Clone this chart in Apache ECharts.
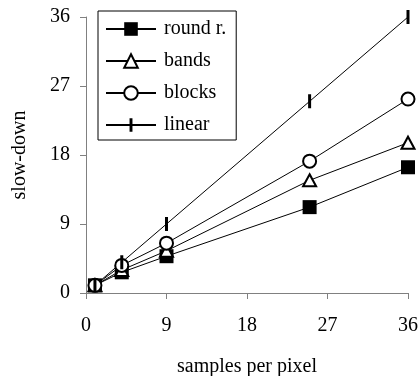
<!DOCTYPE html>
<html>
<head>
<meta charset="utf-8">
<script src="https://cdn.jsdelivr.net/npm/echarts@6/dist/echarts.min.js"></script>
<style>html,body{margin:0;padding:0;background:#fff;}#c{width:420px;height:376px;}</style>
</head>
<body>
<div id="c"></div>
<script>
var samples = [1, 4, 9, 25, 36];
var roundR = [1, 2.7, 4.8, 11.2, 16.4];
var bands = [1, 3.0, 5.5, 14.7, 19.6];
var blocks = [1, 3.6, 6.5, 17.2, 25.3];
var linear = [1, 4, 9, 25, 36];
var seriesNames = ['round r.', 'bands', 'blocks', 'linear'];
var xTicks = [0, 9, 18, 27, 36];
var yTicks = [0, 9, 18, 27, 36];

function pairs(ys) { return samples.map(function (x, i) { return [x, ys[i]]; }); }

var font = '"Liberation Serif", "Times New Roman", serif';
var axisColor = '#808080';
var fs = 20;
// vertical bar inside a square box (corner specks keep the box square)
var barSymbol = 'path://M5.5,0 L8.5,0 L8.5,14 L5.5,14 Z M0,0 L0.01,0 L0.01,0.01 Z M14,14 L13.99,14 L13.99,13.99 Z';

var chart = echarts.init(document.getElementById('c'), null, { renderer: 'canvas' });
var common = {
  type: 'line',
  lineStyle: { color: '#000', width: 1 },
  showAllSymbol: true,
  animation: false,
  z: 3
};
chart.setOption({
  animation: false,
  backgroundColor: '#fff',
  grid: { left: 86, right: 12, top: 17, bottom: 83, containLabel: false, outerBoundsMode: 'none' },
  legend: {
    orient: 'vertical',
    left: 98, top: 11,
    padding: [8, 10, 5, 7],
    itemWidth: 50, itemHeight: 17, itemGap: 12,
    borderColor: '#000', borderWidth: 1,
    backgroundColor: '#fff',
    textStyle: { fontFamily: font, fontSize: fs, color: '#000', lineHeight: 20, padding: [0, 0, 0, 3] },
    data: seriesNames
  },
  xAxis: {
    type: 'value', min: 0, max: 36, interval: 9,
    name: 'samples per pixel', nameLocation: 'middle', nameGap: 64,
    nameTextStyle: { fontFamily: font, fontSize: fs, color: '#000' },
    axisLine: { show: true, lineStyle: { color: axisColor, width: 1 } },
    axisTick: { show: true, length: 6, lineStyle: { color: axisColor } },
    axisLabel: { fontFamily: font, fontSize: fs, color: '#000', margin: 23,
      formatter: function (v) { return xTicks.indexOf(v) >= 0 ? String(v) : ''; } },
    splitLine: { show: false }
  },
  yAxis: {
    type: 'value', min: 0, max: 36, interval: 9,
    name: 'slow-down', nameLocation: 'middle', nameGap: 56,
    nameTextStyle: { fontFamily: font, fontSize: fs, color: '#000' },
    axisLine: { show: true, lineStyle: { color: axisColor, width: 1 } },
    axisTick: { show: true, length: 6, lineStyle: { color: axisColor } },
    axisLabel: { fontFamily: font, fontSize: fs, color: '#000', margin: 16,
      formatter: function (v) { return yTicks.indexOf(v) >= 0 ? String(v) : ''; } },
    splitLine: { show: false }
  },
  series: [
    Object.assign({}, common, { name: seriesNames[0], data: pairs(roundR), symbol: 'rect', symbolSize: 14,
      itemStyle: { color: '#000', borderColor: '#000', borderWidth: 0 } }),
    Object.assign({}, common, { name: seriesNames[1], data: pairs(bands), symbol: 'triangle', symbolSize: [13, 12],
      itemStyle: { color: '#fff', borderColor: '#000', borderWidth: 2 } }),
    Object.assign({}, common, { name: seriesNames[2], data: pairs(blocks), symbol: 'circle', symbolSize: 13,
      itemStyle: { color: '#fff', borderColor: '#000', borderWidth: 2 } }),
    Object.assign({}, common, { name: seriesNames[3], data: pairs(linear), symbol: barSymbol, symbolSize: 14,
      itemStyle: { color: '#000', borderColor: '#000', borderWidth: 0 } })
  ]
});
</script>
</body>
</html>
